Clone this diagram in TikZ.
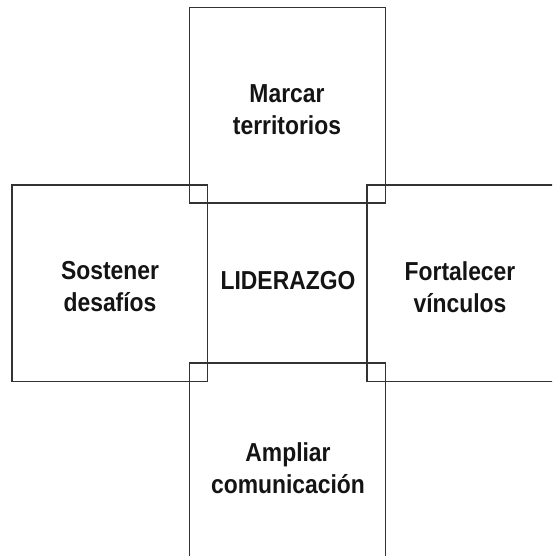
\documentclass[tikz,border=0pt]{standalone}
\usepackage{fontspec}
\setmainfont{Liberation Sans}[FakeStretch=0.88]
\begin{document}
\begin{tikzpicture}[x=1pt,y=-1pt,
  box/.style={draw=black!80, line width=1.6pt},
  lbl/.style={align=center, font=\fontsize{26}{32}\selectfont\bfseries, text=black!92, inner sep=0pt}]
\useasboundingbox (0,0) rectangle (552,556);
\begin{scope}
\clip (0,0) rectangle (552,556);
\draw[box] (189.5,7.5) rectangle (385.3,203);
\draw[box] (12,185) rectangle (207.5,381.5);
\draw[box] (366.7,185) rectangle (562.5,381.5);
\draw[box] (189.5,362.7) rectangle (385.3,560);
\end{scope}
\node[lbl] (top) at (287,110) {Marcar\\territorios};
\node[lbl] (left) at (110,287) {Sostener\\desafíos};
\node[lbl] (mid) at (288,281) {LIDERAZGO};
\node[lbl] (right) at (460,287) {Fortalecer\\vínculos};
\node[lbl] (bot) at (288,468) {Ampliar\\comunicación};
\end{tikzpicture}
\end{document}
